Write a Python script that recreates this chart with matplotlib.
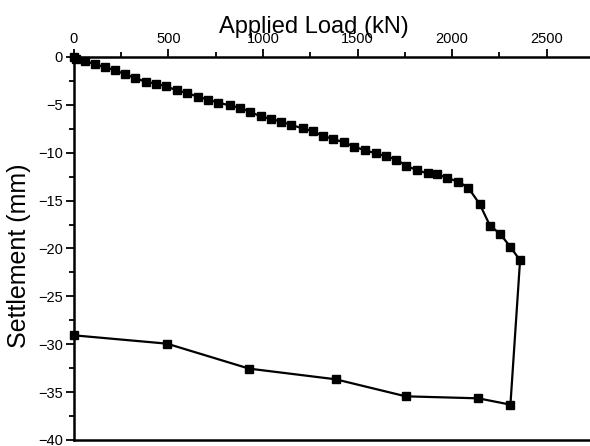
import matplotlib.pyplot as plt
from matplotlib.ticker import MultipleLocator

plt.rcParams['font.family'] = ['Liberation Sans', 'DejaVu Sans']

# loading branch (kN, mm)
load_up = [0, 12, 58, 110, 164, 218, 269, 322, 379, 433, 488, 543, 598, 655,
           710, 764, 823, 877, 933, 987, 1042, 1097, 1150, 1209, 1262, 1315,
           1371, 1428, 1483, 1541, 1596, 1651, 1705, 1759, 1815, 1872, 1921,
           1975, 2033, 2086, 2146, 2201, 2254, 2309, 2360]
settle_up = [0, -0.2, -0.38, -0.77, -1.04, -1.39, -1.78, -2.19, -2.58, -2.78,
             -3.06, -3.48, -3.76, -4.14, -4.46, -4.77, -5.05, -5.29, -5.74,
             -6.2, -6.47, -6.75, -7.1, -7.45, -7.73, -8.22, -8.56, -8.91,
             -9.37, -9.75, -10.06, -10.34, -10.72, -11.35, -11.84, -12.15,
             -12.25, -12.64, -13.02, -13.65, -15.35, -17.62, -18.46, -19.84,
             -21.24]

# unloading branch
load_down = [2360, 2309, 2139, 1755, 1384, 927, 492, 0]
settle_down = [-21.24, -36.31, -35.65, -35.44, -33.66, -32.55, -29.94, -29.07]

fig = plt.figure(figsize=(5.9, 4.46), dpi=100)
ax = fig.add_axes([0.1254, 0.0135, 0.8746, 0.8587])

ax.plot(load_up + load_down[1:], settle_up + settle_down[1:], color='black',
        lw=1.6, marker='s', ms=5.8, clip_on=False)

ax.set_xlim(0, 2730)
ax.set_ylim(-40, 0)
ax.xaxis.tick_top()
ax.xaxis.set_label_position('top')
ax.xaxis.set_major_locator(MultipleLocator(500))
ax.xaxis.set_minor_locator(MultipleLocator(250))
ax.yaxis.set_major_locator(MultipleLocator(5))
ax.yaxis.set_minor_locator(MultipleLocator(2.5))
ax.tick_params(which='both', direction='out', width=1.3, labelsize=10.5, pad=2)
ax.tick_params(which='major', length=6)
ax.tick_params(which='minor', length=3.5)
ax.tick_params(axis='x', which='both', bottom=False, top=True)
ax.tick_params(axis='y', which='both', right=False)

for side in ['left', 'top', 'bottom']:
    ax.spines[side].set_linewidth(1.8)
ax.spines['right'].set_visible(False)

ax.set_xlabel('Applied Load (kN)', fontsize=17)
ax.xaxis.set_label_coords(0.465, 1.062)
ax.set_ylabel('Settlement (mm)', fontsize=18)
ax.yaxis.set_label_coords(-0.083, 0.481)

fig.savefig('out.png', dpi=100)
